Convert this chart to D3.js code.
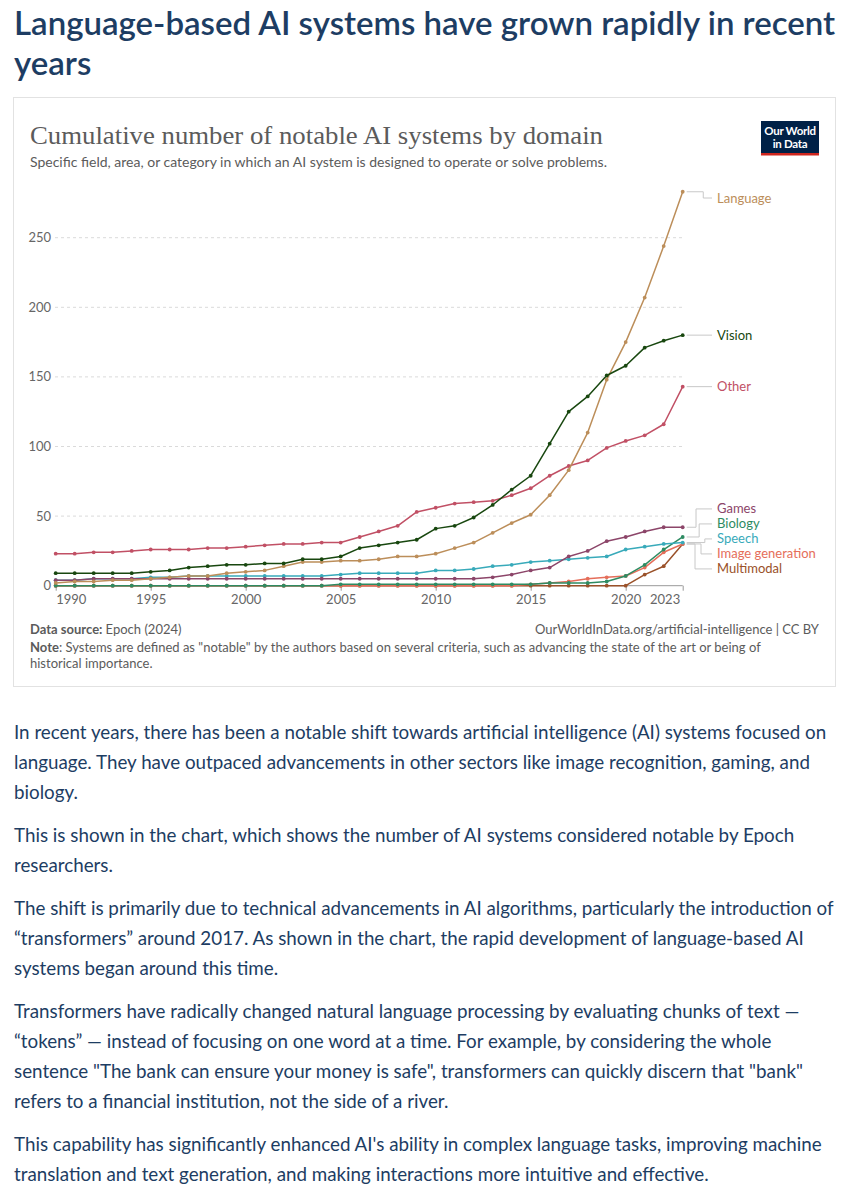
<!DOCTYPE html>
<html><head><meta charset="utf-8">
<script src="https://cdn.jsdelivr.net/npm/d3@7"></script>
<style>
html,body{margin:0;padding:0;background:#fff;}
svg{display:block;}
</style></head>
<body>
<script>
// ---------- DATA ----------
const years = [1990,1991,1992,1993,1994,1995,1996,1997,1998,1999,2000,2001,2002,2003,2004,2005,2006,2007,2008,2009,2010,2011,2012,2013,2014,2015,2016,2017,2018,2019,2020,2021,2022,2023];
const language = [2,3,3,4,4,5,6,7,7,9,10,11,14,17,17,18,18,19,21,21,23,27,31,38,45,51,65,83,110,148,175,207,244,283];
const vision = [9,9,9,9,9,10,11,13,14,15,15,16,16,19,19,21,27,29,31,33,41,43,49,58,69,79,102,125,136,151,158,171,176,180];
const other = [23,23,24,24,25,26,26,26,27,27,28,29,30,30,31,31,35,39,43,53,56,59,60,61,65,70,79,86,90,99,104,108,116,143];
const games = [4,4,5,5,5,5,5,5,5,5,5,5,5,5,5,5,5,5,5,5,5,5,5,6,8,11,13,21,25,32,35,39,42,42];
const speech = [4,4,5,5,5,6,6,7,7,7,7,7,7,7,7,8,9,9,9,9,11,11,12,14,15,17,18,19,20,21,26,28,30,31];
const biology = [0,0,0,0,0,0,0,0,0,0,0,0,0,0,0,1,1,1,1,1,1,1,1,1,1,1,2,2,2,3,7,15,26,35];
const imageGeneration = [0,0,0,0,0,0,0,0,0,0,0,0,0,0,0,0,0,0,0,0,0,0,0,0,0,1,2,3,5,6,7,13,24,30];
const multimodal = [0,0,0,0,0,0,0,0,0,0,0,0,0,0,0,0,0,0,0,0,0,0,0,0,0,0,0,0,0,0,0,8,14,30];
const seriesNames = ["Multimodal","Image generation","Biology","Speech","Games","Other","Language","Vision"];
const seriesValues = [multimodal,imageGeneration,biology,speech,games,other,language,vision];
const seriesColors = ["#9A5129","#E56E5A","#2E8B62","#38AABA","#8C4569","#C15065","#BC8E5A","#18470F"];
const labelOrder = ["Language","Vision","Other","Games","Biology","Speech","Image generation","Multimodal"];
const yTicks = [0,50,100,150,200,250];
const xTicks = [1990,1995,2000,2005,2010,2015,2020,2023];

const headingLines = ["Language-based AI systems have grown rapidly in recent","years"];
const chartTitle = "Cumulative number of notable AI systems by domain";
const chartSubtitle = "Specific field, area, or category in which an AI system is designed to operate or solve problems.";
const paragraphs = [
 ["In recent years, there has been a notable shift towards artificial intelligence (AI) systems focused on","language. They have outpaced advancements in other sectors like image recognition, gaming, and","biology."],
 ["This is shown in the chart, which shows the number of AI systems considered notable by Epoch","researchers."],
 ["The shift is primarily due to technical advancements in AI algorithms, particularly the introduction of","\u201ctransformers\u201d around 2017. As shown in the chart, the rapid development of language-based AI","systems began around this time."],
 ["Transformers have radically changed natural language processing by evaluating chunks of text \u2014","\u201ctokens\u201d \u2014 instead of focusing on one word at a time. For example, by considering the whole","sentence \"The bank can ensure your money is safe\", transformers can quickly discern that \"bank\"","refers to a financial institution, not the side of a river."],
 ["This capability has significantly enhanced AI's ability in complex language tasks, improving machine","translation and text generation, and making interactions more intuitive and effective."]
];

// ---------- DRAW ----------
const W = 851, H = 1200;
const svg = d3.select("body").append("svg").attr("width", W).attr("height", H)
  .style("font-family", "Lato, 'Noto Sans', sans-serif");

const navy = "#1d3d63";
// heading
svg.append("g").selectAll("text").data(headingLines).join("text")
  .attr("x", 14).attr("y", (d,i) => 35 + i*40)
  .attr("fill", navy).attr("font-size", 33).attr("font-weight", 600)
  .text(d => d);

// card
svg.append("rect").attr("x", 13.5).attr("y", 97.5).attr("width", 822).attr("height", 589)
  .attr("fill", "#fff").attr("stroke", "#e2e2e2");

svg.append("text").attr("x", 30).attr("y", 144)
  .attr("font-family", "'Liberation Serif', 'DejaVu Serif', serif")
  .attr("font-size", 26).attr("fill", "#5b5b5b")
  .attr("textLength", 573).attr("lengthAdjust", "spacingAndGlyphs")
  .text(chartTitle);
svg.append("text").attr("x", 30).attr("y", 167)
  .attr("font-size", 14).attr("fill", "#5b5b5b").text(chartSubtitle);

// logo
const logo = svg.append("g");
logo.append("rect").attr("x", 761).attr("y", 121).attr("width", 58).attr("height", 34).attr("fill", "#002147");
logo.append("rect").attr("x", 761).attr("y", 153).attr("width", 58).attr("height", 2.5).attr("fill", "#ce261e");
logo.append("text").attr("x", 790).attr("y", 135).attr("text-anchor", "middle").attr("fill", "#fff")
  .attr("font-size", 11.5).attr("font-weight", 700).attr("letter-spacing", -0.3).text("Our World");
logo.append("text").attr("x", 790).attr("y", 148).attr("text-anchor", "middle").attr("fill", "#fff")
  .attr("font-size", 11.5).attr("font-weight", 700).attr("letter-spacing", -0.3).text("in Data");

// scales
const x = d3.scaleLinear().domain([1990, 2023]).range([55.7, 682.7]);
const y = d3.scaleLinear().domain([0, 250]).range([585.7, 237.7]);

// grid + y labels
const gy = svg.append("g");
gy.selectAll("line").data(yTicks.filter(d => d > 0)).join("line")
  .attr("x1", 55).attr("x2", 684).attr("y1", d => y(d)).attr("y2", d => y(d))
  .attr("stroke", "#dadada").attr("stroke-dasharray", "3,3");
gy.selectAll("text").data(yTicks).join("text")
  .attr("x", 51).attr("y", d => y(d)).attr("dy", "0.35em").attr("text-anchor", "end")
  .attr("font-size", 13).attr("fill", "#666").text(d => d);

// x axis
const xAxis = d3.axisBottom(x).tickValues(xTicks).tickFormat(d3.format("d")).tickSize(5).tickPadding(4);
const gx = svg.append("g").attr("transform", `translate(0,${y(0)})`).call(xAxis);
gx.select(".domain").attr("stroke", "#999").attr("d", `M${x(1990)},0H${x(2023)}`);
gx.selectAll(".tick line").attr("stroke", "#999");
gx.selectAll(".tick text").attr("font-size", 13).attr("fill", "#666").attr("font-family", "Lato, sans-serif")
  .attr("text-anchor", d => d === 1990 ? "start" : (d === 2023 ? "end" : "middle"))
  .attr("dx", d => d === 2023 ? -3 : 0);

// lines
const line = d3.line().x((d,i) => x(years[i])).y(d => y(d));
const gl = svg.append("g");
seriesValues.forEach((vals, k) => {
  gl.append("path").attr("d", line(vals)).attr("fill", "none")
    .attr("stroke", seriesColors[k]).attr("stroke-width", 1.5).attr("stroke-linejoin", "round");
  gl.append("g").selectAll("circle").data(vals).join("circle")
    .attr("cx", (d,i) => x(years[i])).attr("cy", d => y(d)).attr("r", 1.9).attr("fill", seriesColors[k]);
});

// labels with collision avoidance
const labels = seriesNames.map((n,k) => ({name:n, color:seriesColors[k], ty:y(seriesValues[k][seriesValues[k].length-1])}));
labels.sort((a,b) => (a.ty - b.ty) || (labelOrder.indexOf(a.name) - labelOrder.indexOf(b.name)));
const lh = 15, minY = 198;
let groups = labels.map(l => ({items:[l], c:l.ty}));
let changed = true;
while (changed) {
  changed = false;
  for (let i = 0; i < groups.length - 1; i++) {
    const a = groups[i], b = groups[i+1];
    const aBottom = a.c + (a.items.length-1)*lh/2;
    const bTop = b.c - (b.items.length-1)*lh/2;
    if (bTop - aBottom < lh) {
      const items = a.items.concat(b.items);
      const c = d3.mean(items, d => d.ty);
      groups.splice(i, 2, {items, c});
      changed = true; break;
    }
  }
}
groups.forEach(g => {
  const top = Math.max(minY, g.c - (g.items.length-1)*lh/2);
  g.items.forEach((it, j) => it.ly = top + j*lh);
});
const lx0 = x(2023) + 4, lxText = 717;
const gLab = svg.append("g");
labels.forEach(l => {
  const dy = l.ly - l.ty;
  let ex;
  if (Math.abs(dy) < 0.5) ex = null;
  else ex = 695 + Math.min(12, Math.max(0, 12 - Math.abs(dy)*0.6));
  const path = ex === null ? `M${lx0},${l.ty}H${lxText-5}` : `M${lx0},${l.ty}H${ex}V${l.ly}H${lxText-5}`;
  gLab.append("path").attr("d", path).attr("fill", "none").attr("stroke", "#c8c8c8").attr("stroke-width", 1);
  gLab.append("text").attr("x", lxText).attr("y", l.ly).attr("dy", "0.35em")
    .attr("font-size", 13).attr("fill", l.color).text(l.name);
});

// footer
const f1 = svg.append("text").attr("x", 30).attr("y", 634).attr("font-size", 13).attr("fill", "#5b5b5b");
f1.append("tspan").attr("font-weight", 700).text("Data source: ");
f1.append("tspan").text("Epoch (2024)");
svg.append("text").attr("x", 819).attr("y", 634).attr("text-anchor", "end").attr("font-size", 13)
  .attr("fill", "#5b5b5b").text("OurWorldInData.org/artificial-intelligence | CC BY");
const f2 = svg.append("text").attr("x", 30).attr("y", 652).attr("font-size", 13).attr("fill", "#5b5b5b");
f2.append("tspan").attr("font-weight", 700).text("Note");
f2.append("tspan").text(": Systems are defined as \"notable\" by the authors based on several criteria, such as advancing the state of the art or being of");
svg.append("text").attr("x", 30).attr("y", 668).attr("font-size", 13).attr("fill", "#5b5b5b").text("historical importance.");

// paragraphs
let py = 739;
const gp = svg.append("g");
paragraphs.forEach(p => {
  p.forEach((ln, i) => {
    gp.append("text").attr("x", 14).attr("y", py).attr("font-size", 18.8).attr("fill", navy).text(ln);
    py += 30;
  });
  py += 13;
});
</script>
</body></html>
